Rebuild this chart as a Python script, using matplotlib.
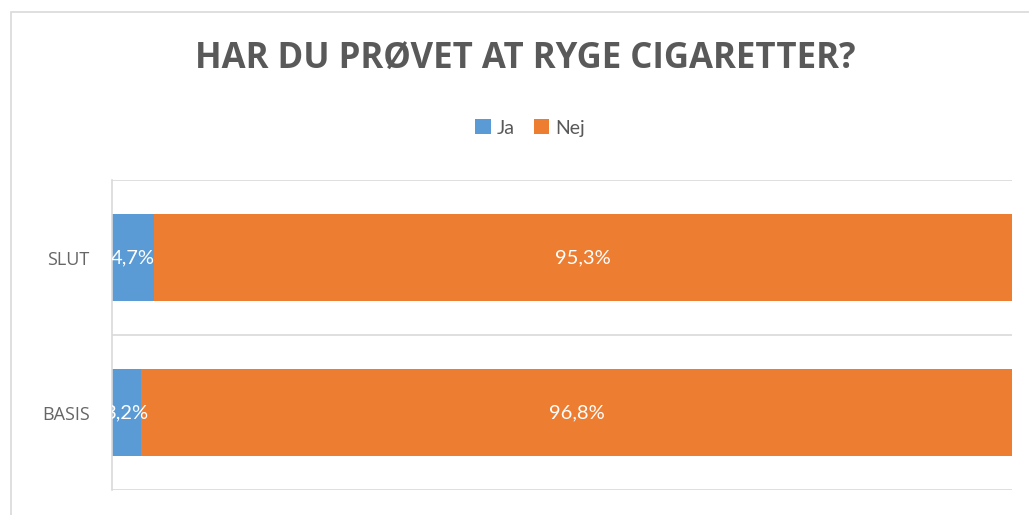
import matplotlib.pyplot as plt
from matplotlib.patches import Rectangle

categories = ["BASIS", "SLUT"]
ja = [3.2, 4.7]
nej = [96.8, 95.3]
series_names = ["Ja", "Nej"]

blue = "#5B9BD5"
orange = "#ED7D31"
grid_color = "#D9D9D9"
text_gray = "#595959"

plt.rcParams['font.family'] = ['Lato', 'DejaVu Sans']

fig = plt.figure(figsize=(10.29, 5.15), dpi=100)
ax = fig.add_axes([112 / 1029, 1 - 490 / 515, 900 / 1029, 310 / 515])

# outer chart border
fig.patches.append(Rectangle((11 / 1029, -0.1), 1.2, 1 - 12 / 515 + 0.1,
                             transform=fig.transFigure, fill=False,
                             edgecolor=grid_color, linewidth=1.2))

y = list(range(len(categories)))
ax.barh(y, ja, height=0.56, color=blue, label=series_names[0])
ax.barh(y, nej, left=ja, height=0.56, color=orange, label=series_names[1])

for i in y:
    ax.text(ja[i] / 2, i, f"{ja[i]:.1f}%".replace(".", ","), color="white",
            ha="center", va="center", fontsize=14.5, clip_on=True)
    ax.text(ja[i] + nej[i] / 2, i, f"{nej[i]:.1f}%".replace(".", ","), color="white",
            ha="center", va="center", fontsize=14.5, clip_on=True)

ax.set_xlim(0, 100)
ax.set_ylim(-0.5, len(categories) - 0.5)
for b in [-0.5, 0.5, 1.5]:
    ax.axhline(b, color=grid_color, linewidth=1.2, zorder=0)
for s in ["top", "right", "bottom"]:
    ax.spines[s].set_visible(False)
ax.spines["left"].set_color(grid_color)
ax.spines["left"].set_linewidth(1.2)
ax.set_xticks([])
ax.set_yticks(y)
ax.set_yticklabels(categories, fontsize=13, color="#666666", family=['Open Sans', 'DejaVu Sans'])
ax.tick_params(axis="y", length=0, pad=16)

fig.text(525 / 1029, 1 - 60 / 515, "HAR DU PRØVET AT RYGE CIGARETTER?", ha="center", va="center",
         fontsize=25, fontweight="bold", color=text_gray, family=['Open Sans', 'DejaVu Sans'])

fig.legend(loc="center", bbox_to_anchor=(530 / 1029, 1 - 128 / 515), ncol=2, frameon=False,
           fontsize=14, handlelength=0.8, handleheight=0.8, handletextpad=0.3,
           columnspacing=1.0, labelcolor=text_gray)

fig.savefig("out.png", dpi=100)
